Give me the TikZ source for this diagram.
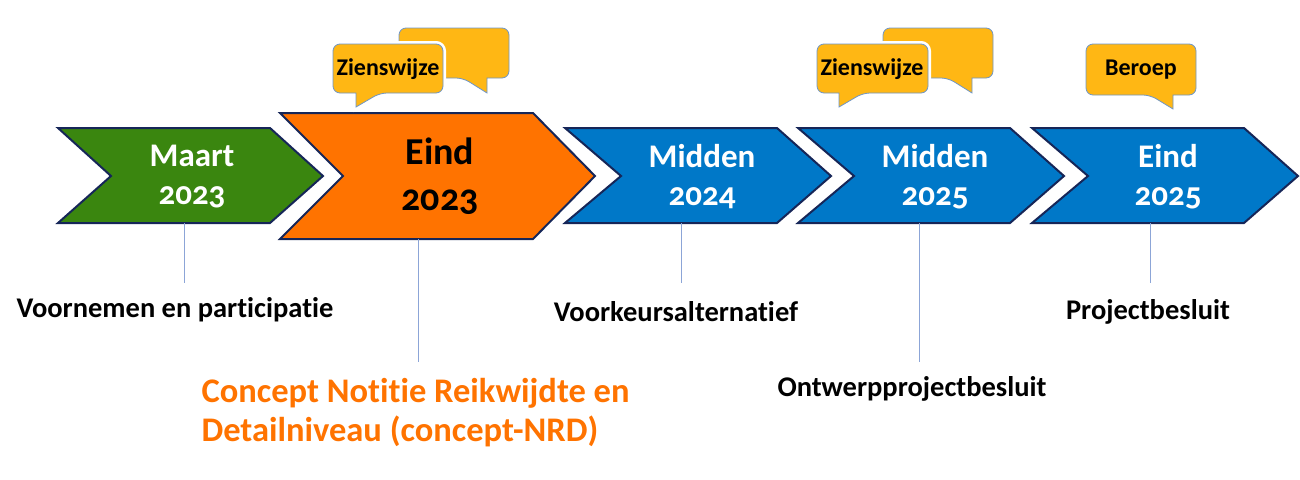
\documentclass[tikz,border=0pt]{standalone}
\usepackage{fontspec}
\setmainfont{Carlito}[Numbers=OldStyle,Ligatures={NoCommon,NoContextual},RawFeature={-liga;-clig;-calt;-dlig}]
\definecolor{rogreen}{RGB}{58,134,15}
\definecolor{roorange}{RGB}{255,115,0}
\definecolor{roblue}{RGB}{0,120,200}
\definecolor{navy}{RGB}{22,38,88}
\definecolor{gold}{RGB}{255,183,20}
\definecolor{edgeblue}{RGB}{110,150,200}
\definecolor{tickblue}{RGB}{140,165,215}
\tikzset{
  chev/.style={draw=navy,line width=2pt,line join=miter},
  bubble/.style={fill=gold,draw=edgeblue,line width=0.8pt},
  front/.style={bubble,preaction={draw=white,line width=6pt}},
  tick/.style={draw=tickblue,line width=1pt},
  yr/.style={font=\bfseries\fontsize{33}{38}\selectfont,text=white,align=center},
  lbl/.style={font=\bfseries\fontsize{28.5}{30}\selectfont},
  bt/.style={font=\bfseries\fontsize{24}{25}\selectfont}
}

\begin{document}
\begin{tikzpicture}[x=1pt,y=-1pt]
  \useasboundingbox (0,0) rectangle (1300,479);
  % chevrons
  \draw[chev,fill=rogreen] (58,128) -- (270,128) -- (323,176) -- (270,223) -- (58,223) -- (111,176) -- cycle;
  \draw[chev,fill=roorange] (280,113) -- (533,113) -- (595,176) -- (533,239) -- (280,239) -- (343,176) -- cycle;
  \begin{scope}[xshift=565pt]
   \draw[chev,fill=roblue] (0,128) -- (212,128) -- (266,176) -- (212,223) -- (0,223) -- (56,176) -- cycle;
  \end{scope}
  \begin{scope}[xshift=798pt]
   \draw[chev,fill=roblue] (0,128) -- (212,128) -- (266,176) -- (212,223) -- (0,223) -- (56,176) -- cycle;
  \end{scope}
  \begin{scope}[xshift=1032pt]
   \draw[chev,fill=roblue] (0,128) -- (212,128) -- (266,176) -- (212,223) -- (0,223) -- (56,176) -- cycle;
  \end{scope}
  \node[yr] (maart) at (192,177) {Maart\\2023};
  \node[yr,text=black,font=\bfseries\fontsize{38}{46}\selectfont] (eind1) at (440,176) {Eind\\2023};
  \node[yr] (mid1) at (702,177) {Midden\\2024};
  \node[yr] (mid2) at (935,177) {Midden\\2025};
  \node[yr] (eind2) at (1168,177) {Eind\\2025};
  % speech bubbles
  \draw[bubble] (487,78) [rounded corners=7pt] -- (509,78) -- (509,28) -- (399,28) -- (399,78) -- (463,78) [sharp corners] -- (487,93) -- cycle;
  \draw[front] (356,93) [rounded corners=7pt] -- (333,93) -- (333,44) -- (443,44) -- (443,93) -- (380,93) [sharp corners] -- (356,107) -- cycle;
  \node[bt] (zw1) at (388,69) {Zienswijze};
  \draw[bubble] (972,78) [rounded corners=7pt] -- (993,78) -- (993,28) -- (883,28) -- (883,78) -- (948,78) [sharp corners] -- (972,93) -- cycle;
  \draw[front] (839,93) [rounded corners=7pt] -- (817,93) -- (817,44) -- (928,44) -- (928,93) -- (863,93) [sharp corners] -- (839,107) -- cycle;
  \node[bt] (zw2) at (872,69) {Zienswijze};
  \draw[bubble] (1173,95) [rounded corners=7pt] -- (1196,95) -- (1196,44) -- (1086,44) -- (1086,95) -- (1150,95) [sharp corners] -- (1173,109) -- cycle;
  \node[bt] (ber) at (1141,70) {Beroep};
  % ticks
  \coordinate (t1) at (184,223); \coordinate (t1e) at (184,283);
  \coordinate (t2) at (418,239); \coordinate (t2e) at (418,362);
  \coordinate (t3) at (681,223); \coordinate (t3e) at (681,283);
  \coordinate (t4) at (919,223); \coordinate (t4e) at (919,362);
  \coordinate (t5) at (1150,223); \coordinate (t5e) at (1150,283);
  \draw[tick] (t1) -- (t1e);
  \draw[tick] (t2) -- (t2e);
  \draw[tick] (t3) -- (t3e);
  \draw[tick] (t4) -- (t4e);
  \draw[tick] (t5) -- (t5e);
  % labels
  \node[lbl] (vp) at (175,310) {Voornemen en participatie};
  \node[lbl,text=roorange,font=\bfseries\fontsize{34.5}{39}\selectfont,align=left,anchor=west] (nrd) at (198,413) {Concept Notitie Reikwijdte en\\Detailniveau (concept-NRD)};
  \node[lbl] (vka) at (676,312) {Voorkeursalternatief};
  \node[lbl] (opb) at (912,389) {Ontwerpprojectbesluit};
  \node[lbl] (pb) at (1148,312) {Projectbesluit};
 \end{tikzpicture}
\end{document}
